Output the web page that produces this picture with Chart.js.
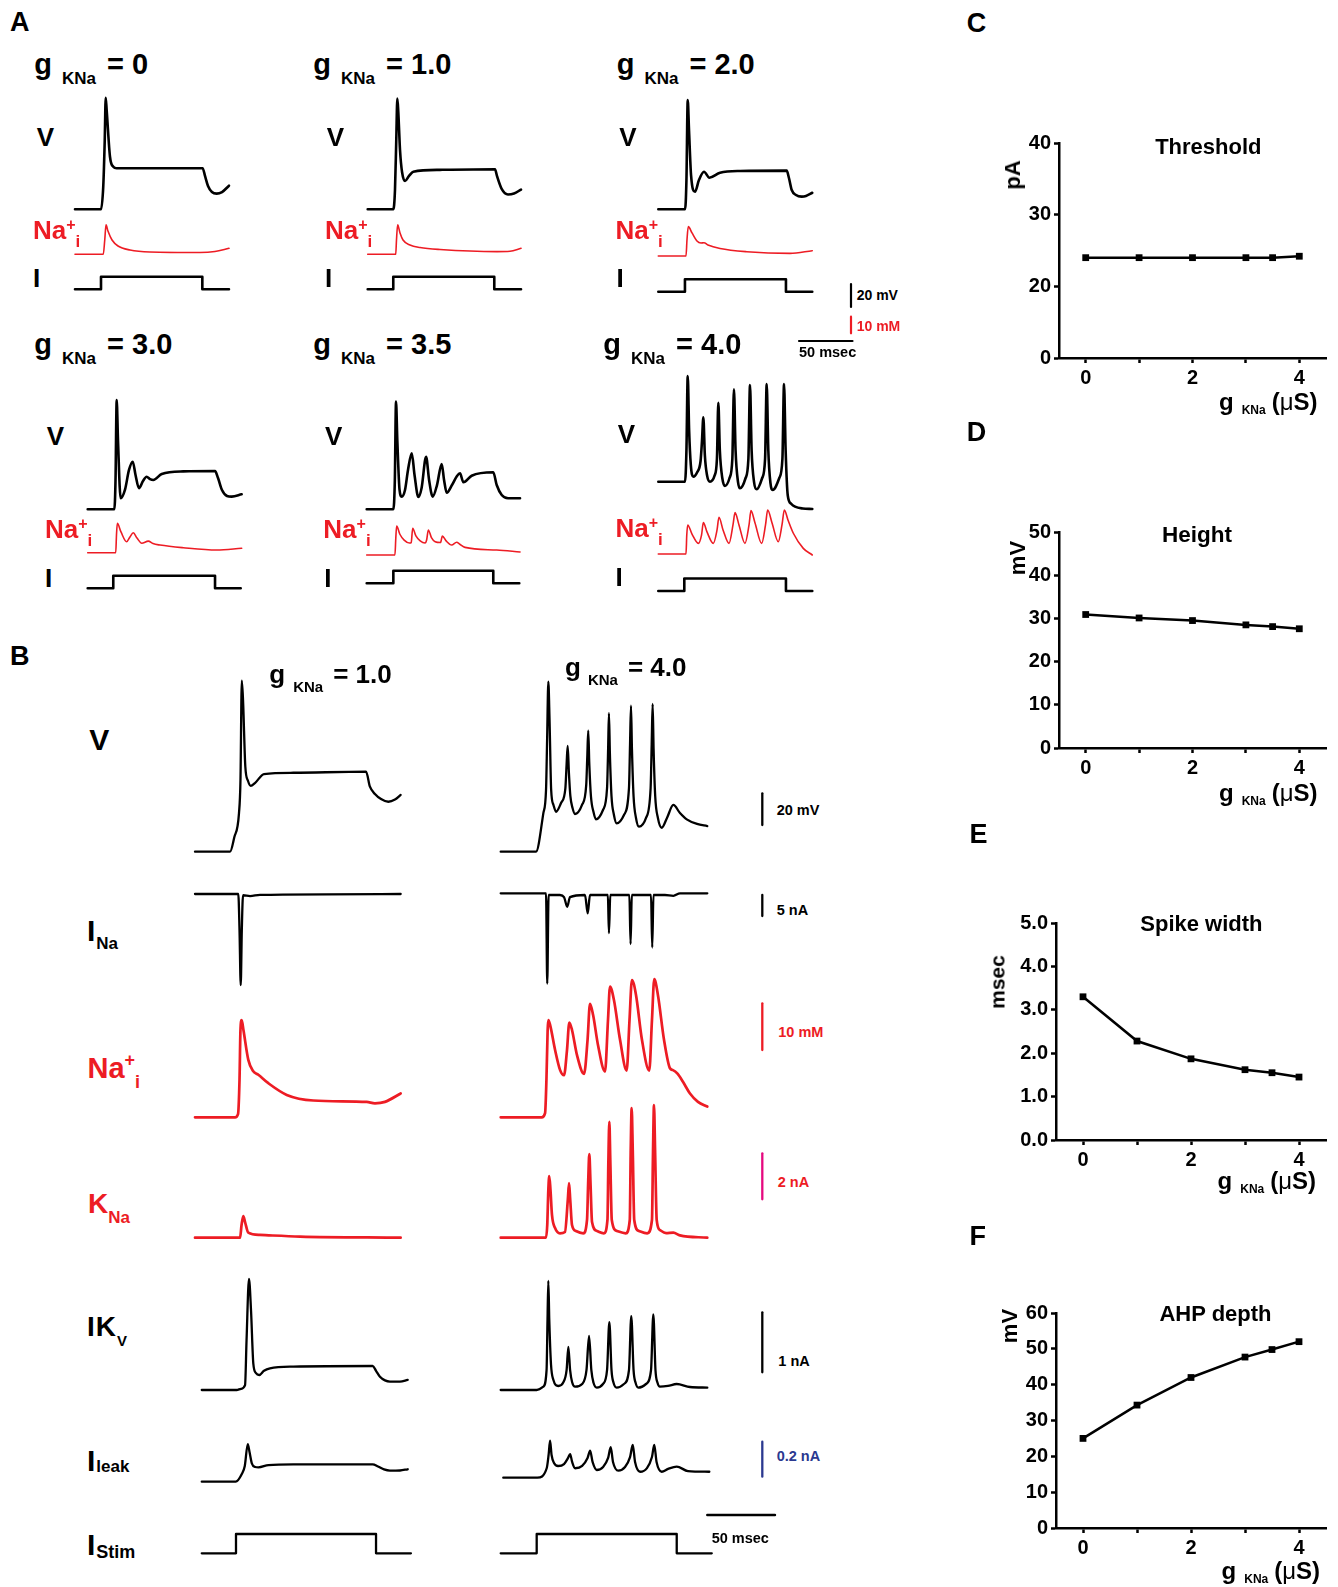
<!DOCTYPE html>
<html lang="en">
<head>
<meta charset="UTF-8">
<title>gKNa simulations</title>
<script src="https://cdn.jsdelivr.net/npm/chart.js"></script>
<style>
  body { margin: 0; background: #fff; width: 1338px; height: 1587px; position: relative; overflow: hidden;
         font-family: 'Liberation Sans', Arial, sans-serif; font-weight: bold; }
  canvas { position: absolute; }
  .t { position: absolute; line-height: 1; white-space: nowrap; color: #000; }
  .t span { position: relative; }
</style>
</head>
<body>
<script>
// ---------- Panel A: [time ms, value]; V in mV from rest, Na+i in mM from rest, I = stim step
const A_V_0 = [[0,0],[24.3,0],[26.4,19.7],[27.8,60.3],[28.7,97],[29.6,86.3],[32.7,45.7],[35.8,37],[38.9,35.7],[119.3,35.7],[121.5,29],[124.3,20.3],[128,15],[132.4,13.6],[137.4,15],[143.9,20.5]];
const A_Na_0 = [[0,0],[26.4,0],[27.8,8.6],[29,17.7],[30.8,14],[34.6,8.6],[40.2,5],[51.4,2.6],[70,1.4],[116.8,1.1],[130.8,1.7],[143.9,3.6]];
const A_I_0 = [[0,0],[24.3,0],[24.3,1],[119,1],[119,0],[143.9,0]];

const A_V_1 = [[0,0],[23.9,0],[25.5,16.8],[26.7,60.3],[27.7,96.2],[28.6,84.6],[30.2,51.6],[32.1,32.4],[34.9,24.6],[38.6,29],[42.6,32.7],[67.6,34.3],[119,34.8],[120.8,29],[125.2,17.7],[131.1,12.9],[136.7,13.7],[143.3,17.2]];
const A_Na_1 = [[0,0],[26.2,0],[26.9,8.6],[28,17.7],[30.2,12.8],[33,8.6],[39.5,5.6],[48.9,4.1],[67.6,2.9],[120.8,1.6],[133,1.8],[143.3,3.6]];
const A_I_1 = [[0,0],[23.9,0],[23.9,1],[118.3,1],[118.3,0],[143.3,0]];

const A_V_2 = [[0,0],[25,0],[26.3,25.5],[27.5,95],[28.7,69],[30.6,29.8],[34.3,15.3],[38,25.5],[42.7,32.7],[47.7,27.5],[57.7,31.8],[76.4,33.3],[120,33.6],[122.1,27.2],[124.7,16.8],[128.7,12.4],[134,11],[138,11.6],[143.9,14.4]];
const A_Na_2 = [[0,0],[25.9,0],[26.8,9.6],[28,17.7],[31.5,13.9],[35.9,9.2],[39.9,7.8],[42.7,8],[46.4,6.6],[57.7,4.5],[82.6,2.6],[123.1,1.6],[143.9,3.2]];
const A_I_2 = [[0,0],[24.9,0],[24.9,1],[119.3,1],[119.3,0],[143.9,0]];

const A_V_3 = [[0,0],[24.9,0],[26,25.5],[27.1,95],[28.3,60.3],[30.8,9.6],[34.8,16.8],[38.6,34.2],[42.1,41.4],[44.7,29.8],[47.9,18.3],[51.7,24.6],[55.1,28.3],[58.2,26.3],[61.3,25.5],[69.2,30.7],[89.3,33],[119,33.3],[121.8,27.2],[125.5,16.8],[130.2,11.6],[134.6,11],[143.9,13]];
const A_Na_3 = [[0,0],[26.2,0],[26.9,10.7],[27.7,17.7],[31.1,12.5],[36.4,6.6],[39.5,9.5],[42.6,12],[46.1,8.8],[50.5,5.7],[56.6,7],[61,5.5],[67.6,4.6],[89.3,3],[120.6,1.6],[143.9,2.7]];
const A_I_3 = [[0,0],[23.9,0],[23.9,1],[119,1],[119,0],[143,0]];

const A_V_35 = [[0,0],[24.9,0],[26.3,25.5],[27.4,93.6],[28.6,60.3],[30.7,16.8],[32.7,11],[35.8,16.8],[38.6,34.2],[42.1,48.7],[44.7,29.8],[48.3,10.7],[51.3,18.5],[55.5,45.7],[58.3,25.5],[61.7,11],[65.7,21.1],[70.1,39.4],[72.3,25.5],[74.8,14.4],[79.7,21.1],[84.4,29],[87.2,31.3],[90.3,23.5],[98.1,29.2],[118.3,32.2],[121.5,21.1],[126.2,12.4],[132.1,9.6],[143.3,9.6]];
const A_Na_35 = [[0,0],[26.4,0],[27.2,10.2],[28,17.5],[31,12.5],[35,9],[40,7.2],[41.6,7.5],[43,16.1],[46,11.5],[50,8.5],[54.5,7.2],[56,9],[57.6,15.1],[60.5,10.5],[64,8],[69,7.5],[70.7,11.4],[74.2,8.5],[79.4,6],[84.1,7.7],[87,6.5],[91.9,4.6],[121.5,3],[143.3,1.8]];
const A_I_35 = [[0,0],[24.9,0],[24.9,1],[118.3,1],[118.3,0],[142.6,0]];

const A_V_4 = [[0,0],[25,0],[26.3,27.6],[27.5,91.9],[28.8,45],[30.4,14.5],[32.7,4.3],[36.2,8],[39.5,18],[40.8,35],[42.1,56],[43.5,23.2],[45.5,5.8],[48.3,0],[52.5,5],[54.8,20],[56.1,68.7],[57.5,27.6],[59.8,3.2],[62.3,-3.7],[66.5,3],[69.2,20],[70.7,80.3],[72.2,27.6],[74.5,-0.3],[76.4,-5.7],[81.5,3],[84.2,20],[85.7,84.1],[87.2,27.6],[89.5,-0.3],[92,-6.6],[97,3],[99.8,20],[101.3,85],[102.8,27.6],[104.8,-1.1],[106.9,-7.2],[113,3],[116,20],[117.5,85],[119,27.6],[121,-12],[124,-19],[127.8,-21.7],[135,-23.3],[143.9,-23.7]];
const A_Na_4 = [[0,0],[25.9,0],[26.6,11.4],[27.5,17.5],[31.5,12],[37.4,6.4],[40.4,11.4],[42.1,18.9],[45.5,13.3],[51.4,6.4],[54.9,14.5],[56.7,22.1],[60.5,14.5],[66.1,6.4],[69.8,17.5],[71.7,24.9],[75.4,17.5],[81,6.4],[84.8,17.5],[86.6,26.1],[90.4,18.7],[96.6,6.4],[100.2,17.5],[102.2,26.5],[106.3,18.7],[112.1,7.4],[115.6,17.5],[117.8,26.5],[121.2,20.5],[126.2,12.5],[135.5,3.4],[143.9,-0.6]];
const A_I_4 = [[0,0],[24.3,0],[24.3,1],[119.3,1],[119.3,0],[143.9,0]];

const gLabelsA = ['0', '1.0', '2.0', '3.0', '3.5', '4.0'];

// ---------- Panel B: gKNa = 1.0 (left) and 4.0 (right)
const B_V_1 = [[0,0],[25.9,0],[29,9],[32.5,24.2],[33.6,45],[34.6,107.9],[35.5,95.7],[37.2,53.6],[39.2,44.6],[41.2,41.5],[44.3,43.3],[51,49],[72.7,49.8],[126.4,50.5],[129.3,41],[133,36.4],[137.5,33.2],[142.9,31.5],[147.8,32.9],[152,35.8]];
const B_INa_1 = [[0,0],[32,0],[32.9,-8.6],[33.8,-21.7],[34.6,-8.6],[35.5,-0.3],[40.7,-0.5],[48,-0.2],[152,0]];
const B_Na_1 = [[0,0],[29.6,0],[31.8,0.7],[32.9,8],[33.6,18.7],[34.5,20.8],[35.8,18.7],[39.4,12.3],[42.9,9.9],[46.8,9.1],[54.2,7.3],[67.8,4.8],[87.4,3.6],[126.9,3.3],[133,3],[140.4,3.3],[152,5.1]];
const B_KNa_1 = [[0,0],[33.3,0],[34.4,0.55],[35.7,0.94],[37,0.68],[39.4,0.22],[48,0.12],[77.6,0.05],[152,0]];
const B_IKv_1 = [[5,0],[30.8,0],[34,0.02],[37,0.08],[38.1,0.83],[39.9,1.85],[41.4,1.33],[43.1,0.44],[45.1,0.28],[47.5,0.25],[51,0.32],[55.4,0.36],[72.7,0.39],[131.3,0.4],[133.8,0.32],[136.7,0.22],[140.4,0.16],[144.1,0.14],[151.5,0.14],[157.2,0.17]];
const B_Leak_1 = [[5,0],[30.1,0],[34.6,0.044],[36.8,0.09],[39,0.215],[40.3,0.17],[42,0.105],[44.5,0.084],[46.9,0.082],[54.3,0.095],[72.7,0.099],[131.3,0.099],[135.3,0.087],[139.7,0.07],[144.1,0.063],[151.5,0.064],[157.2,0.071]];
const B_Stim_1 = [[5,0],[30.3,0],[30.3,1],[133.8,1],[133.8,0],[159.6,0]];

const B_V_4 = [[0,0],[26.1,0],[31.5,24.2],[33.5,38.9],[34.3,70.5],[35.2,107.3],[36.1,83.2],[37.3,38.9],[39,29.5],[40.9,25.2],[44.6,30.7],[47.8,40],[48.7,55],[49.5,66.7],[50.4,50],[51.5,35],[53.1,27.6],[54.9,23.8],[60.1,29.5],[63.2,42],[64,60],[64.7,76.3],[65.5,55],[66.7,35],[68.6,25],[70.4,20.4],[75.6,26.3],[78.6,40],[79.4,65],[80,87.4],[80.7,62],[81.9,35],[83.7,23.2],[85.7,17.9],[91.1,23.2],[94.8,40],[95.6,68],[96.3,92.1],[97,65],[98.2,35],[100,21.3],[102.2,15.8],[107.4,21.3],[110.8,40],[111.6,68],[112.3,93.2],[113,65],[114.2,35],[116.2,21.3],[119,15.1],[122.9,21.3],[127.6,29.5],[132.5,24.4],[137.5,20.4],[145.1,17.5],[152.7,16.2]];
const B_INa_4 = [[0,0],[33.5,0],[34.4,-21.5],[35.4,-0.4],[43.8,-0.4],[46.8,-0.9],[49.2,-3.2],[51.2,-0.9],[62.3,-0.4],[64.3,-4.8],[66,-0.4],[79.2,-0.4],[80,-9.5],[81,-0.4],[95.1,-0.4],[96,-12.1],[96.9,-0.4],[111.1,-0.4],[112,-12.9],[112.9,-0.4],[121.4,-0.4],[127.6,-0.6],[132.5,0],[152.7,0]];
const B_Na_4 = [[0,0],[30.3,0],[32.8,0.9],[33.8,8],[34.7,18.7],[35.2,20.8],[36.5,19.8],[40.2,14.4],[43.9,10.1],[46.8,9],[49,14.4],[50.7,20.3],[52.7,18.7],[56.4,13.3],[61.6,9.3],[64.2,16.6],[66,24.3],[68.3,21.9],[71.9,15.5],[77.1,9.8],[79.3,20.8],[80.8,28],[83.7,25.1],[88.2,16.6],[93.1,10],[95.2,20.8],[97,29.4],[100,26.2],[104.4,16.6],[109.8,10],[111.8,20.8],[113.5,29.6],[116.2,26.2],[120.7,16.6],[125.1,10.5],[127.3,10.1],[130.5,9.4],[134.7,7.6],[139.9,5.1],[145.8,3.3],[152.7,2.3]];
const B_KNa_4 = [[0,0],[33.5,0],[34.4,0.55],[35.2,2.07],[35.9,2.68],[36.8,2.07],[37.9,0.99],[40.2,0.42],[43.8,0.19],[47.5,0.25],[49.6,1.64],[50.5,2.37],[51.4,1.64],[52.7,0.55],[55.6,0.29],[61,0.19],[63.8,0.77],[64.7,2.5],[65.5,3.63],[66.3,2.5],[67.5,0.68],[71.2,0.29],[76.3,0.19],[78.9,0.77],[79.6,3.38],[80.3,5.04],[81,3.38],[82.1,0.77],[86,0.29],[92.4,0.19],[95.4,0.77],[96.1,3.81],[96.8,5.63],[97.6,3.81],[98.7,0.77],[102.2,0.29],[108.3,0.19],[111.8,0.77],[112.6,3.81],[113.3,5.77],[114.1,3.81],[115.3,0.77],[117.8,0.33],[122.2,0.2],[127.6,0.22],[132.5,0.1],[152.7,0]];
const B_IKv_4 = [[0,0],[26.6,0],[31.5,0.055],[33.9,0.33],[34.6,1.17],[35.2,1.82],[35.9,1.17],[37.2,0.42],[38.9,0.17],[42.6,0.067],[46.1,0.12],[48.7,0.33],[50,0.72],[51.3,0.33],[52.8,0.13],[55,0.055],[60.2,0.1],[63.4,0.33],[65.3,0.9],[67,0.33],[68.6,0.12],[71,0.04],[75.6,0.1],[78.6,0.33],[80.3,1.13],[81.9,0.33],[83.4,0.12],[85.7,0.04],[91.1,0.1],[94.8,0.33],[96.5,1.23],[98.2,0.33],[99.7,0.12],[101.7,0.04],[107.4,0.1],[111.1,0.33],[112.8,1.26],[114.4,0.33],[115.9,0.12],[117.7,0.055],[123.6,0.067],[130.1,0.1],[139.9,0.05],[152.7,0.04]];
const B_Leak_4 = [[1.9,0],[27.1,0],[34,0.054],[35.4,0.13],[36.5,0.211],[37.6,0.13],[39.4,0.084],[42.4,0.067],[46.8,0.078],[49.8,0.113],[51.3,0.135],[52.8,0.09],[55,0.054],[60.2,0.067],[64.2,0.113],[66.1,0.154],[67.9,0.09],[71,0.044],[75.7,0.061],[79.4,0.113],[81.3,0.174],[83,0.09],[86.9,0.04],[91.9,0.061],[95.6,0.118],[97.6,0.187],[99.3,0.09],[103,0.034],[108.1,0.055],[111.8,0.118],[113.5,0.187],[115.2,0.09],[119,0.034],[123.7,0.05],[130.1,0.063],[138.4,0.038],[154.2,0.034]];
const B_Stim_4 = [[0,0],[26.6,0],[26.6,1],[130.1,1],[130.1,0],[156,0]];

// ---------- Panels C-F
const gKNa = [0, 1, 2, 3, 3.5, 4];
const threshold = [24, 24, 24, 24, 24, 24.2];
const spikeHeight = [30.9, 30.1, 29.5, 28.5, 28.1, 27.6];
const spikeWidth = [3.3, 2.28, 1.87, 1.62, 1.55, 1.45];
const ahpDepth = [25, 34.3, 42, 47.7, 49.8, 52];

// ---------- layout (page pixels)
const RED = '#ed1c24', MAG = '#e5097f', BLUE = '#2b3990';
const FONT = "'Liberation Sans', Arial, sans-serif";

// A sub-panels: trace start x, V / Na / I baselines
const posA = [
  [75, 209.3, 254.3, 289.3], [367.7, 209.3, 254.3, 289.3], [658.3, 209.3, 256, 291.7],
  [87.7, 509.3, 552.7, 588.3], [366.7, 509.3, 555, 583.3], [658.3, 481.7, 554, 591]
];
const scA = { t: 1.07, v: 1.15, na: 1.66, i: 12.5 };
const colB = [195, 500.7];
const scB = { t: 1.353, v: 1.585, ina: 4.2, na: 4.67, kna: 23, ikv: 60, leak: 175, stim: 19.3 };

function trace(pts, ox, oy, sx, sy, color, lw, smooth) {
  const pad = Math.ceil(lw) + 2;
  const ts = pts.map(p => p[0]), vs = pts.map(p => p[1]);
  const t0 = Math.min(...ts), t1 = Math.max(...ts), v0 = Math.min(...vs), v1 = Math.max(...vs);
  const w = Math.ceil((t1 - t0) * sx + 2 * pad), h = Math.ceil((v1 - v0) * sy + 2 * pad);
  const left = Math.round(ox + t0 * sx - pad), top = Math.round(oy - v1 * sy - pad);
  const c = document.createElement('canvas');
  c.width = w; c.height = h;
  c.style.left = left + 'px'; c.style.top = top + 'px';
  document.body.appendChild(c);
  new Chart(c, {
    type: 'line',
    data: { datasets: [{
      data: pts.map(p => ({ x: p[0], y: p[1] })),
      borderColor: color, borderWidth: lw, pointRadius: 0, fill: false,
      tension: 0, cubicInterpolationMode: smooth ? 'monotone' : 'default',
      borderJoinStyle: 'round', borderCapStyle: 'round'
    }] },
    options: {
      responsive: false, animation: false, events: [], layout: { padding: 0 },
      scales: {
        x: { type: 'linear', display: false, min: (left - ox) / sx, max: (left + w - ox) / sx },
        y: { display: false, min: (oy - top - h) / sy, max: (oy - top) / sy }
      },
      plugins: { legend: { display: false }, tooltip: { enabled: false } }
    }
  });
}

function txt(x, base, html, fs, opt = {}) {
  const d = document.createElement('div');
  d.className = 't';
  d.innerHTML = html;
  d.style.fontSize = fs + 'px';
  d.style.left = x + 'px';
  d.style.top = (base - 0.8465 * fs) + 'px';
  if (opt.color) d.style.color = opt.color;
  if (opt.center) d.style.transform = 'translateX(-50%)';
  if (opt.rotate) {
    d.style.top = base + 'px';
    d.style.transform = 'translate(-50%,-50%) rotate(-90deg)';
  }
  document.body.appendChild(d);
}
const sub = (s, fs, dy, ml = 0) => `<span style="font-size:${fs}px;top:${dy}px;margin-left:${ml}px">${s}</span>`;
const gTitle = (val, fs, sfs, dy, g1, g2) => `g${sub('KNa', sfs, dy, g1)}<span style="margin-left:${g2}px">= ${val}</span>`;
const naLbl = (pfs, pdy, ifs, idy) => `Na${sub('+', pfs, pdy)}${sub('i', ifs, idy)}`;

// ---------- Panel A
const vA = [A_V_0, A_V_1, A_V_2, A_V_3, A_V_35, A_V_4];
const naA = [A_Na_0, A_Na_1, A_Na_2, A_Na_3, A_Na_35, A_Na_4];
const iA = [A_I_0, A_I_1, A_I_2, A_I_3, A_I_35, A_I_4];
posA.forEach((p, k) => {
  trace(vA[k], p[0], p[1], scA.t, scA.v, '#000', 2.6, true);
  trace(naA[k], p[0], p[2], scA.t, scA.na, RED, 1.6, true);
  trace(iA[k], p[0], p[3], scA.t, scA.i, '#000', 2.6, false);
});
// scale bars A
trace([[0, 0], [0, 20]], 851, 307, scA.t, scA.v, '#000', 2.2, false);
trace([[0, 0], [0, 10]], 851, 333.3, scA.t, scA.na, RED, 2.2, false);
trace([[0, 0], [50, 0]], 799, 341, scA.t, scA.v, '#000', 2.2, false);

txt(10, 32.3, 'A', 27);
const titleA = [[34.3, 75], [313.3, 75], [616.7, 75], [34.3, 355], [313.3, 355], [603.3, 355]];
titleA.forEach((p, k) => txt(p[0], p[1], gTitle(gLabelsA[k], 29, 17, 10, 10, 11), 29));
const vLblA = [[36.7, 146], [326.7, 146], [619.3, 146], [46.7, 445], [325, 445], [617.7, 443.3]];
vLblA.forEach(p => txt(p[0], p[1], 'V', 26));
const naLblA = [[33, 239.3], [325, 239.3], [615.5, 239], [45, 538.3], [323.3, 538.3], [615.5, 537.3]];
naLblA.forEach(p => txt(p[0], p[1], naLbl(16, -9, 17, 8), 26, { color: RED }));
const iLblA = [[33, 287.3], [325, 287.3], [616.5, 287.3], [45, 586.7], [324.3, 586.7], [615.5, 586]];
iLblA.forEach(p => txt(p[0], p[1], 'I', 26));
txt(856.7, 300, '20 mV', 14);
txt(856.7, 331, '10 mM', 14, { color: RED });
txt(799, 357.5, '50 msec', 14.5);

// ---------- Panel B
const rowsB = [
  [[B_V_1, B_V_4], [851.7, 851.7], scB.v, '#000', 2.3],
  [[B_INa_1, B_INa_4], [894, 893.3], scB.ina, '#000', 2.3],
  [[B_Na_1, B_Na_4], [1117.3, 1117.3], scB.na, RED, 2.7],
  [[B_KNa_1, B_KNa_4], [1237.7, 1237.7], scB.kna, RED, 2.7],
  [[B_IKv_1, B_IKv_4], [1390, 1390], scB.ikv, '#000', 2.3],
  [[B_Leak_1, B_Leak_4], [1481.7, 1477.7], scB.leak, '#000', 2.3]
];
rowsB.forEach(r => [0, 1].forEach(k => trace(r[0][k], colB[k], r[1][k], scB.t, r[2], r[3], r[4], true)));
trace(B_Stim_1, colB[0], 1553.3, scB.t, scB.stim, '#000', 2.3, false);
trace(B_Stim_4, colB[1], 1553.3, scB.t, scB.stim, '#000', 2.3, false);
// scale bars B
trace([[0, 0], [0, 20]], 762.3, 825, scB.t, scB.v, '#000', 2.3, false);
trace([[0, 0], [0, 5]], 762.3, 916, scB.t, scB.ina, '#000', 2.3, false);
trace([[0, 0], [0, 10]], 762.3, 1050, scB.t, scB.na, RED, 2.3, false);
trace([[0, 0], [0, 2]], 762.3, 1199.3, scB.t, scB.kna, MAG, 2.3, false);
trace([[0, 0], [0, 1]], 762.3, 1372.3, scB.t, scB.ikv, '#000', 2.3, false);
trace([[0, 0], [0, 0.2]], 762.3, 1476.7, scB.t, scB.leak, BLUE, 2.3, false);
trace([[0, 0], [50, 0]], 707.3, 1515, scB.t, scB.v, '#000', 2.5, false);

txt(10, 666, 'B', 27);
txt(269.3, 682.7, gTitle('1.0', 26, 15, 9, 8, 10), 26);
txt(565, 676, gTitle('4.0', 26, 15, 9, 7, 10), 26);
txt(89.3, 750, 'V', 30);
txt(87, 941, 'I' + sub('Na', 17, 8, 1), 30);
txt(87.5, 1078.3, naLbl(18, -12, 18, 10), 29, { color: RED });
txt(88, 1214, 'K' + sub('Na', 17, 10), 28, { color: RED });
txt(87, 1337, '<span style="letter-spacing:1px">IK</span>' + sub('V', 15, 10), 28);
txt(87, 1471.7, 'I' + sub('leak', 17, 1, 1), 30);
txt(87, 1555, 'I' + sub('Stim', 18, 3, 1), 30);
txt(776.7, 815, '20 mV', 14.5);
txt(776.7, 915.7, '5 nA', 14.5);
txt(778.3, 1037.7, '10 mM', 14.5, { color: RED });
txt(777.7, 1187.7, '2 nA', 14.5, { color: RED });
txt(778.3, 1366.7, '1 nA', 14.5);
txt(776.7, 1461.7, '0.2 nA', 14.5, { color: BLUE });
txt(711.7, 1543.3, '50 msec', 14.5);

// ---------- Panels C-F
const tickFont = { family: FONT, size: 20, weight: 'bold' };
function statPanel(box, ys, y) {
  const padL = 70, padR = 14, padT = 16, padB = 44;
  const c = document.createElement('canvas');
  c.width = Math.round(box.r - box.l + padL + padR);
  c.height = Math.round(box.b - box.t + padT + padB);
  c.style.left = (box.l - padL) + 'px';
  c.style.top = (box.t - padT) + 'px';
  document.body.appendChild(c);
  const grid = { drawOnChartArea: false, drawTicks: true, tickLength: 5, tickWidth: 2.5, tickColor: '#000' };
  const border = { display: true, color: '#000', width: 2.5 };
  new Chart(c, {
    type: 'line',
    data: { datasets: [{
      data: gKNa.map((g, i) => ({ x: g, y: ys[i] })),
      borderColor: '#000', borderWidth: 2.5, tension: 0, clip: false,
      pointStyle: 'rect', pointRadius: 4.8, pointBackgroundColor: '#000', pointBorderWidth: 0
    }] },
    options: {
      responsive: false, animation: false, events: [],
      layout: { padding: { left: 0, right: padR, top: padT, bottom: 0 } },
      scales: {
        x: {
          type: 'linear', min: -0.5, max: 4.5,
          afterFit: s => { s.height = padB; },
          afterBuildTicks: s => { s.ticks = [0, 1, 2, 3, 4].map(v => ({ value: v })); },
          ticks: { callback: v => (v % 2 === 0 ? String(v) : ''), font: tickFont, color: '#000', padding: 3, maxRotation: 0, autoSkip: false },
          grid, border
        },
        y: {
          min: y.min, max: y.max,
          afterFit: s => { s.width = padL; },
          afterBuildTicks: s => { s.ticks = y.ticks.map(v => ({ value: v })); },
          ticks: { callback: y.fmt, font: tickFont, color: '#000', padding: 3, autoSkip: false },
          grid, border
        }
      },
      plugins: { legend: { display: false }, tooltip: { enabled: false } }
    }
  });
}
const xTitle = `g${sub('KNa', 12, 4, 8)}<span style="margin-left:6px">(<span style="font-weight:normal">μ</span>S)</span>`;

statPanel({ l: 1059.3, r: 1326.7, t: 143.3, b: 358.3 }, threshold,
  { min: 10, max: 40, ticks: [10, 20, 30, 40], fmt: v => (v === 10 ? '0' : String(v)) });
statPanel({ l: 1059.3, r: 1326.7, t: 531.7, b: 747.3 }, spikeHeight,
  { min: 0, max: 50, ticks: [0, 10, 20, 30, 40, 50], fmt: v => String(v) });
statPanel({ l: 1056, r: 1326, t: 923, b: 1139.6 }, spikeWidth,
  { min: 0, max: 5, ticks: [0, 1, 2, 3, 4, 5], fmt: v => v.toFixed(1) });
statPanel({ l: 1056, r: 1326, t: 1312.6, b: 1528 }, ahpDepth,
  { min: 0, max: 60, ticks: [0, 10, 20, 30, 40, 50, 60], fmt: v => String(v) });

txt(966.7, 33.3, 'C', 27);
txt(966.7, 441.7, 'D', 27);
txt(969.6, 844, 'E', 27);
txt(969.6, 1246, 'F', 27);
txt(1208.3, 155, 'Threshold', 22, { center: true });
txt(1197, 543.3, 'Height', 22.5, { center: true });
txt(1201.4, 932, 'Spike width', 22, { center: true });
txt(1215.5, 1322, 'AHP depth', 22, { center: true });
txt(1013.3, 175, 'pA', 22, { rotate: true });
txt(1018.3, 557.5, 'mV', 22, { rotate: true });
txt(997, 981.7, 'msec', 21, { rotate: true });
txt(1010, 1325.8, 'mV', 22, { rotate: true });
txt(1219, 410, xTitle, 24);
txt(1219, 801, xTitle, 24);
txt(1217.6, 1189, xTitle, 24);
txt(1221.6, 1579, xTitle, 24);
</script>
</body>
</html>
